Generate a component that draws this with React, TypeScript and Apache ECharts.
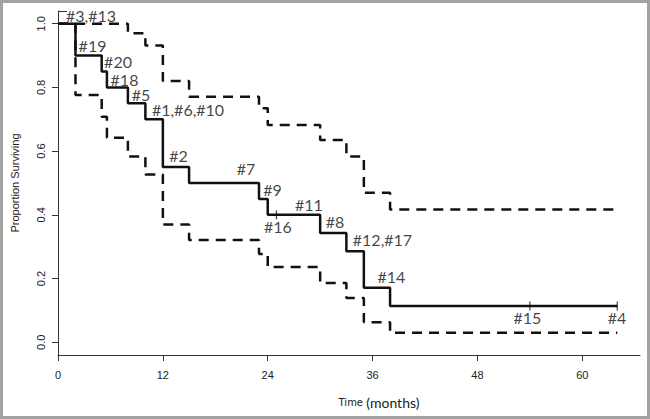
import React, { useEffect, useRef } from "react";
import * as echarts from "echarts";

// Kaplan-Meier estimate (months, proportion surviving)
const kmTime = [0, 2, 5, 5.6, 8, 10, 12, 15, 23, 24, 30, 33, 35, 38, 64];
const kmSurv = [1, 0.9, 0.85, 0.8, 0.75, 0.7, 0.55, 0.5, 0.45, 0.4, 0.343, 0.286, 0.171, 0.114, 0.114];

// Upper confidence bound
const upTime = [0, 8, 10, 12, 15, 23, 24, 30, 33, 35, 38, 64];
const upSurv = [1, 0.97, 0.932, 0.82, 0.771, 0.735, 0.682, 0.635, 0.583, 0.469, 0.417, 0.417];

// Lower confidence bound
const loTime = [0, 2, 5, 5.6, 8, 10, 12, 15, 23, 24, 30, 33, 35, 38, 64];
const loSurv = [1, 0.776, 0.708, 0.642, 0.583, 0.527, 0.37, 0.321, 0.277, 0.236, 0.186, 0.139, 0.063, 0.03, 0.03];

// Censored observations
const censorTime = [25, 54, 64];
const censorSurv = [0.4, 0.114, 0.114];

// Patient annotations
const noteText = ["#3,#13", "#19", "#20", "#18", "#5", "#1,#6,#10", "#2", "#7", "#9", "#16", "#11", "#8", "#12,#17", "#14", "#15", "#4"];
const noteTime = [3.78, 3.95, 6.87, 7.61, 9.5, 14.88, 13.79, 21.51, 24.55, 25.17, 28.72, 31.7, 37.13, 38.16, 53.72, 63.97];
const noteSurv = [1.027, 0.933, 0.88, 0.826, 0.779, 0.732, 0.586, 0.544, 0.481, 0.365, 0.434, 0.378, 0.323, 0.208, 0.078, 0.078];

const xTicks = [0, 12, 24, 36, 48, 60];
const yTicks = [0, 0.2, 0.4, 0.6, 0.8, 1.0];

const zip = (a: number[], b: number[]) => a.map((v, i) => [v, b[i]]);

export default function App() {
  const ref = useRef<HTMLDivElement>(null);
  useEffect(() => {
    document.body.style.margin = "0";
    if (!ref.current) return;
    const chart = echarts.init(ref.current, null, { renderer: "svg" });
    const axisColor = "#333";
    chart.setOption({
      animation: false,
      backgroundColor: "#fff",
      grid: { left: 58, right: 10, top: 11, bottom: 64 },
      xAxis: {
        type: "value",
        min: 0,
        max: 66.6,
        name: "{a|Time} {b|(months)}",
        nameLocation: "middle",
        nameGap: 40,
        nameTextStyle: {
          padding: [0, 0, 0, 60],
          rich: {
            a: { fontFamily: "DejaVu Sans", fontSize: 10, color: "#222" },
            b: { fontFamily: "Lato", fontSize: 14, color: "#222" },
          },
        },
        axisLine: { show: true, onZero: false, lineStyle: { color: axisColor, width: 1 } },
        axisTick: { show: true, length: 6, customValues: xTicks, lineStyle: { color: axisColor } },
        axisLabel: {
          customValues: xTicks,
          margin: 14,
          fontFamily: "Liberation Sans",
          fontSize: 11,
          color: "#222",
        },
        splitLine: { show: false },
      },
      yAxis: {
        type: "value",
        min: -0.04,
        max: 1.04,
        name: "Proportion Surviving",
        nameLocation: "middle",
        nameGap: 38,
        nameTextStyle: { fontFamily: "Liberation Sans", fontSize: 11, color: "#222" },
        axisLine: { show: true, lineStyle: { color: axisColor, width: 1 } },
        axisTick: { show: true, length: 6, customValues: yTicks, lineStyle: { color: axisColor } },
        axisLabel: {
          customValues: yTicks,
          rotate: 90,
          margin: 12,
          formatter: (v: number) => v.toFixed(1),
          fontFamily: "Liberation Sans",
          fontSize: 11,
          color: "#222",
        },
        splitLine: { show: false },
      },
      graphic: [
        {
          type: "rect",
          shape: { x: 1.5, y: 1.5, width: 647, height: 416 },
          style: { fill: "none", stroke: "#a3a3a3", lineWidth: 3 },
          silent: true,
        },
        {
          type: "line",
          shape: { x1: 58, y1: 11.5, x2: 67, y2: 11.5 },
          style: { stroke: axisColor, lineWidth: 1 },
          silent: true,
        },
      ],
      series: [
        {
          name: "Upper",
          type: "line",
          step: "end",
          showSymbol: false,
          symbol: "none",
          data: zip(upTime, upSurv),
          lineStyle: { color: "#111", width: 2.5, type: [10, 7] },
        },
        {
          name: "Lower",
          type: "line",
          step: "end",
          showSymbol: false,
          symbol: "none",
          data: zip(loTime, loSurv),
          lineStyle: { color: "#111", width: 2.5, type: [10, 7] },
        },
        {
          name: "Survival",
          type: "line",
          step: "end",
          showSymbol: false,
          symbol: "none",
          data: zip(kmTime, kmSurv),
          lineStyle: { color: "#111", width: 2.5 },
        },
        {
          name: "Censored",
          type: "scatter",
          symbol: "rect",
          symbolSize: [1.2, 9],
          itemStyle: { color: "#111" },
          data: zip(censorTime, censorSurv),
        },
        {
          name: "Notes",
          type: "scatter",
          symbolSize: 1,
          itemStyle: { color: "rgba(0,0,0,0)" },
          data: noteText.map((t, i) => ({ name: t, value: [noteTime[i], noteSurv[i]] })),
          label: {
            show: true,
            position: "inside",
            formatter: "{b}",
            fontFamily: "Lato",
            fontSize: 16,
            lineHeight: 14,
            color: "#111",
          },
        },
      ],
    });
    return () => chart.dispose();
  }, []);
  return <div ref={ref} style={{ width: 650, height: 419 }} />;
}
